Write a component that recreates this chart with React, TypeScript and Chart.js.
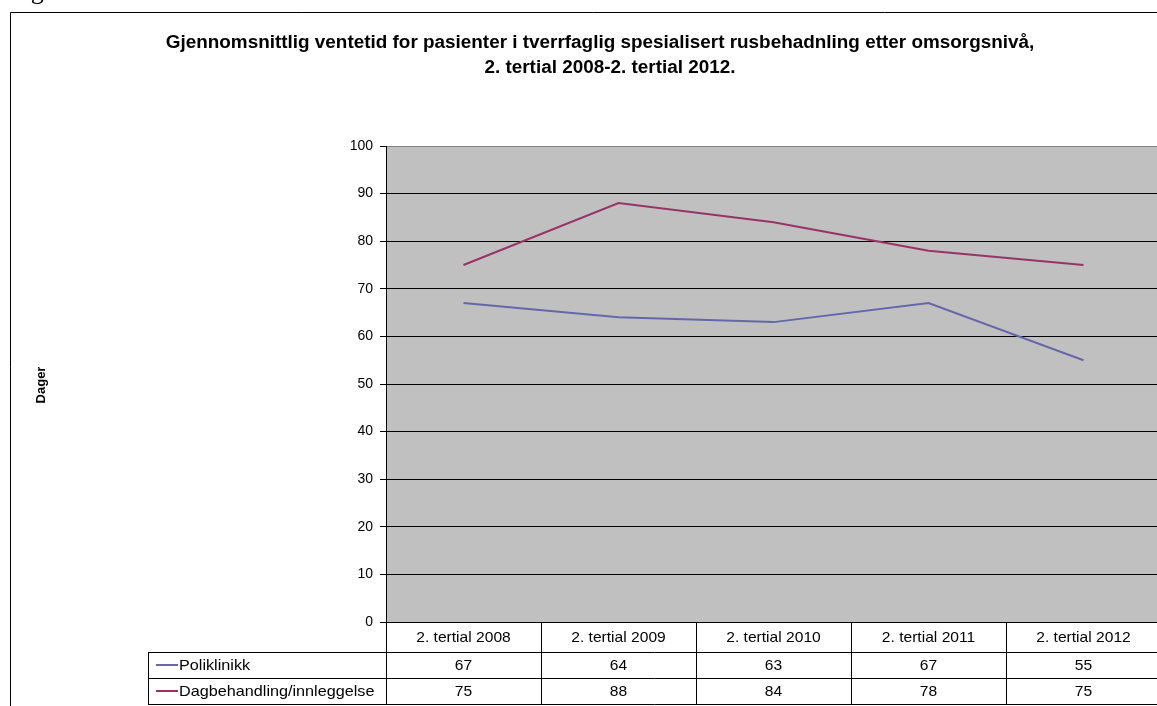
import React, { useEffect, useRef } from "react";
import { Chart, registerables } from "chart.js";

Chart.register(...registerables);

const categories = [
  "2. tertial 2008",
  "2. tertial 2009",
  "2. tertial 2010",
  "2. tertial 2011",
  "2. tertial 2012",
];
const poliklinikk = [67, 64, 63, 67, 55];
const dagbehandling = [75, 88, 84, 78, 75];
const seriesNames = ["Poliklinikk", "Dagbehandling/innleggelse"];
const seriesColors = ["#6666aa", "#993366"];
const titleLines = [
  "Gjennomsnittlig ventetid for pasienter i tverrfaglig spesialisert rusbehadnling etter omsorgsnivå,",
  "2. tertial 2008-2. tertial 2012.",
];
const yTitle = "Dager";

const CANVAS_W = 1175;
const CANVAS_H = 720;
const FONT = 'Arial, "Liberation Sans", sans-serif';

// draws text with a slight horizontal stretch
function stretchText(ctx: CanvasRenderingContext2D, text: string, x: number, y: number, sx: number) {
  ctx.save();
  ctx.translate(x, y);
  ctx.scale(sx, 1);
  ctx.fillText(text, 0, 0);
  ctx.restore();
}

const decorPlugin = {
  id: "decor",
  beforeDraw(chart: any) {
    const { ctx, chartArea } = chart;
    ctx.save();
    ctx.fillStyle = "#ffffff";
    ctx.fillRect(0, 0, chart.width, chart.height);
    ctx.fillStyle = "#c0c0c0";
    ctx.fillRect(
      chartArea.left,
      chartArea.top,
      chartArea.right - chartArea.left,
      chartArea.bottom - chartArea.top
    );
    ctx.restore();
  },
  afterDraw(chart: any) {
    const { ctx, chartArea } = chart;
    const x = chart.scales.x;
    ctx.save();

    // outer frame
    ctx.strokeStyle = "#000";
    ctx.lineWidth = 1;
    ctx.beginPath();
    ctx.moveTo(10.5, CANVAS_H + 5);
    ctx.lineTo(10.5, 12.5);
    ctx.lineTo(CANVAS_W + 5, 12.5);
    ctx.stroke();

    // heading above the frame, clipped at the top edge
    ctx.fillStyle = "#000";
    ctx.font = '26px "Liberation Serif", "Times New Roman", serif';
    ctx.textAlign = "left";
    ctx.textBaseline = "alphabetic";
    ctx.fillText("Figur", 9, -1.5);

    // title
    ctx.font = "bold 18px " + FONT;
    ctx.textAlign = "center";
    stretchText(ctx, titleLines[0], 600, 48, 1.05);
    stretchText(ctx, titleLines[1], 610, 73, 1.05);

    // y axis title
    ctx.save();
    ctx.translate(41, 385);
    ctx.rotate(-Math.PI / 2);
    ctx.font = "bold 13px " + FONT;
    ctx.textAlign = "center";
    ctx.textBaseline = "middle";
    ctx.fillText(yTitle, 0, 0);
    ctx.restore();

    // data table
    const n = categories.length;
    const colW = (chartArea.right - chartArea.left) / n;
    const top = chartArea.bottom;
    const rowH = [30, 26, 26];
    const r1 = top + rowH[0];
    const r2 = r1 + rowH[1];
    const r3 = r2 + rowH[2];
    const legendLeft = 148;

    ctx.strokeStyle = "#000";
    ctx.lineWidth = 1;
    ctx.beginPath();
    ctx.moveTo(legendLeft, Math.round(r1) + 0.5);
    ctx.lineTo(chartArea.right, Math.round(r1) + 0.5);
    ctx.moveTo(legendLeft, Math.round(r2) + 0.5);
    ctx.lineTo(chartArea.right, Math.round(r2) + 0.5);
    ctx.moveTo(legendLeft, Math.round(r3) + 0.5);
    ctx.lineTo(chartArea.right, Math.round(r3) + 0.5);
    ctx.moveTo(legendLeft + 0.5, Math.round(r1));
    ctx.lineTo(legendLeft + 0.5, Math.round(r3) + 1);
    for (let i = 0; i <= n; i++) {
      const vx = Math.round(chartArea.left + i * colW) + 0.5;
      ctx.moveTo(vx, top);
      ctx.lineTo(vx, Math.round(r3) + 1);
    }
    ctx.stroke();

    ctx.fillStyle = "#000";
    ctx.font = "15px " + FONT;
    ctx.textAlign = "center";
    ctx.textBaseline = "middle";
    const rows = [poliklinikk, dagbehandling];
    for (let i = 0; i < n; i++) {
      const cx = x.getPixelForValue(i);
      stretchText(ctx, categories[i], cx, top + rowH[0] / 2 + 1, 1.04);
      stretchText(ctx, String(rows[0][i]), cx, r1 + rowH[1] / 2 + 1, 1.04);
      stretchText(ctx, String(rows[1][i]), cx, r2 + rowH[2] / 2 + 1, 1.04);
    }

    // legend keys
    const keyRows = [r1 + rowH[1] / 2, r2 + rowH[2] / 2];
    for (let s = 0; s < 2; s++) {
      const ky = Math.round(keyRows[s]);
      ctx.strokeStyle = seriesColors[s];
      ctx.lineWidth = 2;
      ctx.beginPath();
      ctx.moveTo(156, ky);
      ctx.lineTo(178, ky);
      ctx.stroke();
      ctx.fillStyle = "#000";
      ctx.textAlign = "left";
      stretchText(ctx, seriesNames[s], 179, keyRows[s] + 1, 1.08);
    }

    ctx.restore();
  },
};

export default function App() {
  const canvasRef = useRef<HTMLCanvasElement | null>(null);

  useEffect(() => {
    if (!canvasRef.current) return;
    const chart = new Chart(canvasRef.current, {
      type: "line",
      data: {
        labels: categories,
        datasets: [
          {
            label: seriesNames[0],
            data: poliklinikk,
            borderColor: seriesColors[0],
            backgroundColor: seriesColors[0],
            borderWidth: 2,
            pointRadius: 0,
            tension: 0,
          },
          {
            label: seriesNames[1],
            data: dagbehandling,
            borderColor: seriesColors[1],
            backgroundColor: seriesColors[1],
            borderWidth: 2,
            pointRadius: 0,
            tension: 0,
          },
        ],
      },
      options: {
        responsive: false,
        animation: false,
        devicePixelRatio: 1,
        layout: { padding: { left: 346, right: 14, top: 146, bottom: 98 } },
        plugins: {
          legend: { display: false },
          title: { display: false },
          tooltip: { enabled: false },
        },
        scales: {
          x: {
            type: "category",
            display: false,
            offset: true,
          },
          y: {
            min: 0,
            max: 100,
            afterFit: (scale: any) => {
              scale.width = 40;
            },
            ticks: {
              stepSize: 10,
              color: "#000",
              padding: 7,
              font: { family: FONT, size: 14 },
            },
            grid: {
              color: (c: any) => (c.tick && c.tick.value === 100 ? "#808080" : "#000"),
              tickColor: "#000",
              tickLength: 6,
              lineWidth: 1,
            },
            border: { display: true, color: "#000", width: 1 },
          },
        },
      },
      plugins: [decorPlugin],
    });
    return () => chart.destroy();
  }, []);

  return (
    <div
      style={{
        position: "absolute",
        left: 0,
        top: 0,
        width: 1157,
        height: 706,
        overflow: "hidden",
        background: "#fff",
      }}
    >
      <canvas
        ref={canvasRef}
        width={CANVAS_W}
        height={CANVAS_H}
        style={{ width: CANVAS_W, height: CANVAS_H, display: "block" }}
      />
    </div>
  );
}
